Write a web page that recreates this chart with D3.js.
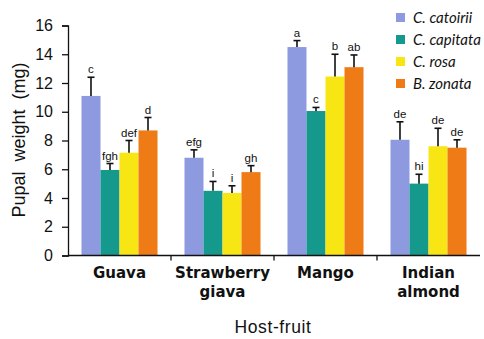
<!DOCTYPE html>
<html>
<head>
<meta charset="utf-8">
<script src="https://cdn.jsdelivr.net/npm/d3@7"></script>
<style>
  html, body { margin: 0; padding: 0; background: #fff; }
  svg { display: block; }
</style>
</head>
<body>
<svg id="chart" width="484" height="339"></svg>
<script>
// Host fruits and fly species
const fruits = ["Guava", "Strawberry giava", "Mango", "Indian almond"];
const fruitLines = [["Guava"], ["Strawberry", "giava"], ["Mango"], ["Indian", "almond"]];
const species = ["C. catoirii", "C. capitata", "C. rosa", "B. zonata"];
const colors = ["#8e9ae0", "#14998c", "#f7e514", "#ee7b16"];

// Mean pupal weight (mg), one array per species, in fruit order
const catoirii = [11.1, 6.8, 14.5, 8.05];
const capitata = [5.95, 4.5, 10.05, 5.0];
const rosa     = [7.15, 4.35, 12.45, 7.6];
const zonata   = [8.7, 5.8, 13.1, 7.5];
// Upper end of the error bars (mean + SE)
const catoiriiErr = [12.4, 7.35, 14.95, 9.3];
const capitataErr = [6.4, 5.15, 10.3, 5.65];
const rosaErr     = [8.0, 4.85, 14.0, 8.85];
const zonataErr   = [9.6, 6.25, 13.95, 8.05];
// Significance letters
const catoiriiSig = ["c", "efg", "a", "de"];
const capitataSig = ["fgh", "i", "c", "hi"];
const rosaSig     = ["def", "i", "b", "de"];
const zonataSig   = ["d", "gh", "ab", "de"];

const yTicks = [0, 2, 4, 6, 8, 10, 12, 14, 16];

const values = [catoirii, capitata, rosa, zonata];
const errs = [catoiriiErr, capitataErr, rosaErr, zonataErr];
const sigs = [catoiriiSig, capitataSig, rosaSig, zonataSig];

const rows = [];
fruits.forEach((f, i) => {
  species.forEach((s, j) => {
    rows.push({ fruit: f, sp: s, j, v: values[j][i], e: errs[j][i], sig: sigs[j][i] });
  });
});

const svg = d3.select("#chart");
const plotLeft = 68, plotRight = 480, plotTop = 25.5, plotBottom = 255.5;

const x = d3.scaleBand().domain(fruits).range([plotLeft, plotRight]).paddingInner(0).paddingOuter(0);
const xs = d3.scaleBand().domain(species).range([0, x.bandwidth()]).paddingInner(0).paddingOuter(0.71);
const y = d3.scaleLinear().domain([0, 16]).range([plotBottom, plotTop]);

// Bars
svg.append("g").selectAll("rect").data(rows).join("rect")
  .attr("x", d => x(d.fruit) + xs(d.sp))
  .attr("y", d => y(d.v))
  .attr("width", xs.bandwidth())
  .attr("height", d => y(0) - y(d.v))
  .attr("fill", d => colors[d.j]);

// Error bars
const eg = svg.append("g").attr("stroke", "#111").attr("stroke-width", 1.6);
rows.forEach(d => {
  const cx = x(d.fruit) + xs(d.sp) + xs.bandwidth() / 2;
  eg.append("line").attr("x1", cx).attr("x2", cx).attr("y1", y(d.v)).attr("y2", y(d.e));
  eg.append("line").attr("x1", cx - 3.5).attr("x2", cx + 3.5).attr("y1", y(d.e)).attr("y2", y(d.e));
});

// Significance letters
svg.append("g").selectAll("text").data(rows).join("text")
  .attr("x", d => x(d.fruit) + xs(d.sp) + xs.bandwidth() / 2)
  .attr("y", d => y(d.e) - 4)
  .attr("text-anchor", "middle")
  .attr("font-family", "Liberation Sans, Arial, sans-serif")
  .attr("font-size", 11.5)
  .attr("fill", "#111")
  .text(d => d.sig);

// Y axis
const yAxis = svg.append("g").attr("transform", `translate(${plotLeft},0)`)
  .call(d3.axisLeft(y).tickValues(yTicks).tickSize(6).tickPadding(9).tickFormat(d3.format("d")));
yAxis.select(".domain").attr("stroke", "#111").attr("stroke-width", 1.3);
yAxis.selectAll(".tick line").attr("stroke", "#111").attr("stroke-width", 1.3);
yAxis.selectAll(".tick text")
  .attr("font-family", "Liberation Sans, Arial, sans-serif")
  .attr("font-size", 16).attr("fill", "#111");

// X axis: baseline with ticks at the group boundaries
const xg = svg.append("g").attr("transform", `translate(0,${plotBottom})`);
xg.append("line").attr("x1", plotLeft).attr("x2", plotRight).attr("stroke", "#111").attr("stroke-width", 1.3);
xg.selectAll("line.t").data(fruits.slice(1)).join("line")
  .attr("class", "t")
  .attr("x1", d => x(d)).attr("x2", d => x(d))
  .attr("y1", 0).attr("y2", 5)
  .attr("stroke", "#111").attr("stroke-width", 1.3);

// Category labels
const cl = svg.append("g").selectAll("text").data(fruits).join("text")
  .attr("x", d => x(d) + x.bandwidth() / 2)
  .attr("y", 278)
  .attr("text-anchor", "middle")
  .attr("font-family", "DejaVu Sans, sans-serif")
  .attr("font-weight", "bold")
  .attr("font-size", 15)
  .attr("fill", "#111");
cl.each(function (d, i) {
  const t = d3.select(this);
  fruitLines[i].forEach((ln, k) => {
    t.append("tspan").attr("x", x(d) + x.bandwidth() / 2).attr("dy", k === 0 ? 0 : 19).text(ln);
  });
});

// Axis titles
svg.append("text")
  .attr("transform", "translate(25,140) rotate(-90)")
  .attr("text-anchor", "middle")
  .attr("font-family", "Liberation Sans, Arial, sans-serif")
  .attr("font-size", 18).attr("fill", "#111")
  .attr("word-spacing", 5)
  .text("Pupal weight (mg)");

svg.append("text")
  .attr("x", 273).attr("y", 333)
  .attr("text-anchor", "middle")
  .attr("font-family", "Liberation Sans, Arial, sans-serif")
  .attr("font-size", 17.5).attr("fill", "#111")
  .attr("letter-spacing", 0.6)
  .text("Host-fruit");

// Legend
const lg = svg.append("g").selectAll("g").data(species).join("g")
  .attr("transform", (d, i) => `translate(396,${17.5 + i * 22})`);
lg.append("rect").attr("x", 0).attr("y", -4.5).attr("width", 9).attr("height", 9)
  .attr("fill", (d, i) => colors[i]);
lg.append("text").attr("x", 17).attr("y", 5.5)
  .attr("font-family", "Lato, sans-serif")
  .attr("font-style", "italic")
  .attr("font-size", 15).attr("fill", "#111")
  .text(d => d);
</script>
</body>
</html>
